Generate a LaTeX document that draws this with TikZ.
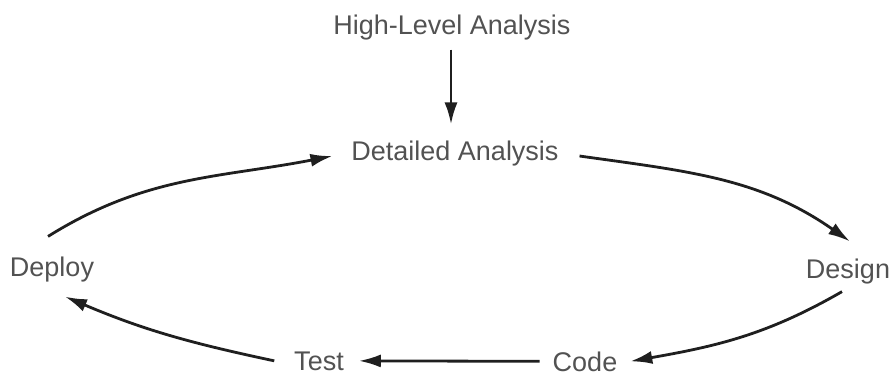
\documentclass[tikz,border=0pt]{standalone}
\usepackage{fontspec}
\setmainfont{Liberation Sans}
\usetikzlibrary{arrows.meta}
\begin{document}
\begin{tikzpicture}[x=1pt,y=1pt,
  stage/.style={inner sep=0pt, outer sep=0pt, anchor=base, text=black!68,
                font=\fontsize{27}{32}\selectfont},
  flow/.style={line width=2.8pt, draw=black!88,
               -{Latex[length=22pt,width=13pt]}}]
\useasboundingbox (0,0) rectangle (891,376);

% process stages
\node[stage] (high)   at (452,342) {High-Level Analysis};
\node[stage] (det)    at (455,216) {Detailed Analysis};
\node[stage] (design) at (848,98)  {Design};
\node[stage] (code)   at (585,5)   {Code};
\node[stage] (test)   at (319,6)   {Test};
\node[stage] (deploy) at (52,100)  {Deploy};

% entry into the cycle
\path (high.south |- det.north) coordinate (hd);
\draw[flow] ([shift={(-1,-10)}]high.south) -- ([shift={(-1,16)}]hd);

% the iterative cycle
\draw[flow] ([shift={(21,-3)}]det.east)
  to[out=-8,in=145] ([shift={(2,17)}]design.north);
\draw[flow] ([shift={(-6,-8)}]design.south)
  to[out=210,in=10] ([shift={(13,0)}]code.east);
\draw[flow, shorten <=13pt, shorten >=15pt] (code.west) -- (test.east);
\draw[flow] ([shift={(-20,0)}]test.west)
  to[out=168,in=-23] ([shift={(13,-15)}]deploy.south);
\draw[flow] ([shift={(-4,20)}]deploy.north)
  to[out=32,in=191] ([shift={(-19,-3)}]det.west);
\end{tikzpicture}
\end{document}
